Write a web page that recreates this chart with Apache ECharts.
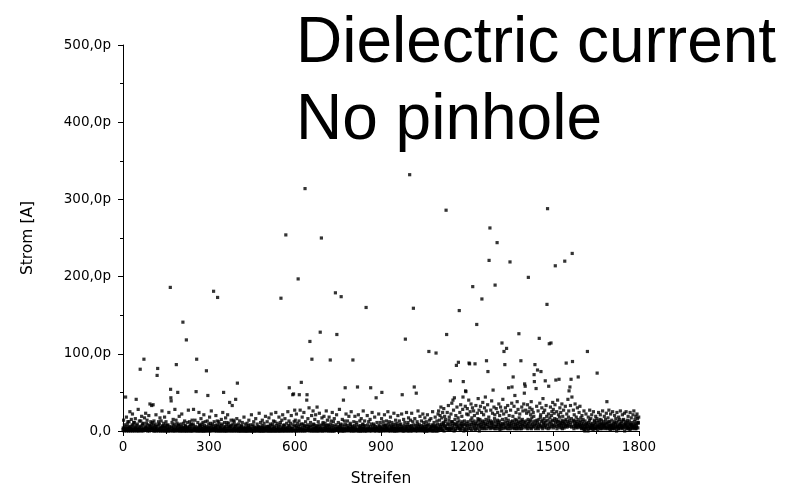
<!DOCTYPE html>
<html>
<head>
<meta charset="utf-8">
<script src="https://cdn.jsdelivr.net/npm/echarts@6/dist/echarts.min.js"></script>
<style>
html,body{margin:0;padding:0;background:#fff;}
#chart{width:794px;height:488px;}
</style>
</head>
<body>
<div id="chart"></div>
<script>
// Current per strip (pA), index = strip number 0..1799, one row per 100 strips
const current = [
/*0*/    2,4,14,3,0,8,1,5,2,44, 1,3,18,0,6,9,1,12,4,2, 0,12,3,5,25,2,6,0,3,15, 2,1,8,22,0,4,7,11,1,3, 11,0,2,16,3,5,41,7,2,0, 9,3,1,28,2,0,5,13,1,6, 80,2,13,0,4,19,1,7,9,2, 0,10,3,93,1,17,2,4,6,23, 3,1,10,5,14,0,3,8,1,2, 20,4,0,7,35,2,6,12,3,9,
/*100*/  33,2,5,11,3,34,0,7,13,1, 4,0,9,2,6,21,3,0,6,72, 2,81,1,8,12,0,4,9,1,17, 3,0,5,13,1,4,26,0,6,7, 1,3,10,0,5,18,1,5,0,8, 12,1,4,0,7,3,1,8,2,0, 24,2,6,4,0,186,54,43,39,5, 1,11,3,0,7,15,1,4,0,9, 2,28,1,6,0,14,86,2,5,10, 3,50,0,7,8,1,19,3,0,5,
/*200*/  1,3,9,0,6,22,1,4,0,141, 2,10,5,3,0,13,2,7,6,0, 3,118,2,0,11,5,4,2,27,0, 1,6,12,3,0,8,1,5,9,0, 3,14,1,0,7,9,28,1,3,4, 2,14,0,6,1,51,2,93,0,4, 1,11,3,0,5,24,1,8,0,7, 2,5,16,0,3,9,6,1,0,11, 3,0,21,2,7,5,0,12,2,4, 0,78,3,6,13,2,46,0,4,9,
/*300*/  2,5,18,0,3,10,1,7,26,0, 4,1,9,2,6,3,181,1,12,2, 0,3,7,5,20,2,0,4,8,13, 173,2,0,6,12,1,9,0,4,5, 1,3,0,15,7,1,9,0,24,3, 2,50,5,0,11,3,6,0,17,1, 4,0,8,11,1,21,3,0,6,10, 1,5,37,0,3,6,1,14,7,0, 3,33,1,9,0,14,2,5,12,3, 0,6,8,41,1,3,0,16,7,62,
/*400*/  2,4,0,9,3,1,0,13,5,1, 0,3,6,7,2,0,11,1,3,0, 2,5,18,0,3,1,9,4,0,1, 3,0,6,10,1,0,2,4,7,14, 0,2,5,3,0,8,2,1,21,0, 3,1,0,6,8,1,12,0,4,1, 0,4,2,16,5,0,3,1,9,2, 1,0,6,5,3,23,0,4,2,0, 11,2,5,0,3,7,14,2,0,4, 2,0,10,6,3,0,2,19,1,5,
/*500*/  1,3,0,12,6,1,0,6,2,17, 0,5,3,2,9,0,7,22,2,0, 3,1,9,0,6,13,1,3,0,5, 12,1,0,24,2,7,3,0,10,2, 1,0,4,6,18,1,0,8,2,11, 0,172,2,5,14,3,0,21,1,7, 3,0,8,2,6,16,0,3,254,1, 2,10,0,5,3,25,2,0,7,13, 56,2,6,0,10,3,1,20,4,0, 1,3,47,8,0,48,1,12,6,27,
/*600*/  2,14,0,7,1,22,5,0,10,3, 1,197,6,0,13,47,3,8,27,2, 0,4,63,9,1,18,0,5,9,2, 1,24,0,7,5,314,1,12,0,6, 3,40,47,1,8,16,2,3,6,30, 0,5,116,1,11,7,2,0,20,93, 2,6,0,26,3,9,8,2,0,15, 3,5,21,0,7,4,1,31,2,0, 6,12,3,0,8,23,1,5,128,3, 2,0,250,7,17,3,0,9,11,1,
/*700*/  3,19,0,6,1,10,3,7,2,26, 1,5,0,14,3,8,7,2,0,18, 2,6,3,92,0,9,13,1,5,0, 24,2,7,0,12,3,1,16,0,6, 1,179,3,8,2,21,125,1,5,3, 2,11,0,6,3,28,2,0,7,9, 3,174,5,2,0,15,3,8,0,40, 2,0,13,6,3,56,2,9,22,1, 0,3,7,13,1,5,4,2,19,1, 3,0,8,10,1,6,25,0,3,4,
/*800*/  2,6,92,0,3,12,1,7,0,19, 3,1,5,2,11,1,8,0,57,2, 1,21,0,6,2,4,13,0,7,3, 0,16,1,5,3,0,8,9,26,2, 3,6,0,13,2,7,3,0,160,2, 1,0,20,3,8,1,5,12,2,1, 3,0,15,6,56,2,0,9,1,24, 2,5,1,3,9,2,7,0,18,3, 1,6,0,43,3,1,11,5,2,1, 3,0,22,7,1,0,6,11,2,4,
/*900*/  0,3,16,50,5,2,0,8,12,2, 1,6,21,3,2,7,0,8,4,13, 3,1,5,2,25,1,9,0,6,12, 1,2,0,18,3,7,2,5,11,1, 3,0,8,6,1,23,0,4,3,9, 0,14,2,6,3,0,10,2,7,20, 2,3,0,5,13,2,8,3,1,9, 3,6,22,0,47,2,5,3,0,15, 1,7,0,11,3,119,1,6,2,24, 3,5,0,8,11,1,17,0,6,2,
/*1000*/ 332,2,6,14,0,3,7,23,1,0, 3,12,5,159,1,8,57,2,16,3, 1,0,7,49,3,5,12,0,9,26, 1,3,6,2,8,1,19,5,0,3, 1,13,2,7,3,1,22,6,0,11, 3,5,0,17,2,8,3,0,12,6, 0,3,21,7,2,0,9,103,1,14, 2,6,3,1,16,5,0,5,8,1, 25,0,7,1,3,11,6,0,4,18, 3,7,101,0,5,13,3,9,0,22,
/*1100*/ 2,26,5,3,14,8,20,2,6,31, 3,9,17,2,6,24,1,11,9,29, 0,7,19,4,12,15,6,286,3,125, 3,24,8,2,10,33,3,14,18,2, 6,3,65,9,22,2,12,36,3,12, 7,40,4,27,10,0,43,8,15,1, 3,20,9,85,6,31,11,3,7,17, 89,5,13,156,3,24,8,2,34,10, 3,7,19,12,6,28,44,64,9,0, 3,13,8,2,32,52,51,6,10,22,
/*1200*/ 2,29,7,12,21,3,40,88,9,87, 6,25,3,14,35,8,1,17,11,30, 187,5,9,26,13,3,20,7,87,1, 10,33,4,8,138,12,23,3,16,42, 7,14,27,0,9,15,5,32,11,3, 6,24,171,8,13,37,3,10,21,5, 12,30,3,7,44,9,15,26,91,3, 8,11,34,77,6,14,18,221,5,10, 263,3,13,27,7,11,39,4,9,23, 5,53,12,8,31,3,16,21,189,6,
/*1300*/ 3,12,29,6,9,244,14,24,3,8, 11,35,5,13,20,2,9,31,7,3, 6,26,114,10,15,41,3,8,22,103, 9,5,86,12,30,4,16,25,107,7, 3,11,33,8,14,56,3,20,6,10, 219,7,27,3,12,9,36,57,5,13, 19,70,8,4,32,11,3,46,15,6, 9,24,3,14,7,38,10,3,28,12, 5,126,17,8,22,3,11,6,91,13, 3,31,9,15,7,26,4,12,35,8,
/*1400*/ 49,61,11,58,6,27,13,4,23,9, 7,34,3,15,199,10,25,6,12,30, 4,14,21,8,38,3,17,28,9,5, 12,24,6,19,73,64,8,86,13,3, 10,55,7,32,14,4,79,11,26,6, 3,15,120,9,36,7,18,21,77,5, 12,30,6,14,3,42,10,24,8,16, 5,27,11,65,7,13,33,4,19,164, 8,288,14,3,22,58,10,113,6,17, 4,31,12,114,9,20,25,6,14,37,
/*1500*/ 8,28,4,13,23,7,16,34,214,11, 66,6,15,25,3,12,40,9,7,21, 13,67,5,18,30,8,11,24,4,10, 7,35,14,3,19,12,6,27,10,4, 9,220,13,32,6,15,88,8,22,5, 12,7,41,10,18,26,52,14,6,57, 11,33,8,67,16,5,44,230,90,12, 6,27,14,3,21,9,13,35,7,5, 10,18,6,12,4,30,9,15,70,7, 5,24,11,8,32,6,13,17,4,9,
/*1600*/ 3,20,7,5,12,15,3,9,26,2, 6,0,13,8,4,22,5,10,3,9, 103,7,0,18,11,3,6,14,27,5, 3,9,16,4,7,21,10,3,6,7, 2,25,8,5,12,14,3,9,4,19, 3,11,6,16,75,7,2,13,5,24, 8,4,11,6,15,21,3,9,7,14, 3,10,5,26,8,4,12,8,6,19, 7,3,9,15,5,11,23,4,38,10, 3,6,17,8,12,27,5,3,12,7,
/*1700*/ 2,22,6,9,4,14,7,3,25,5, 3,8,10,5,12,20,3,6,9,16, 4,11,0,24,7,5,6,13,3,18, 3,9,15,6,8,26,4,10,5,12, 7,3,21,6,14,4,15,9,5,23, 0,8,12,9,5,25,7,3,11,14, 4,6,19,3,10,5,13,8,2,24, 3,9,6,17,7,11,8,3,5,21, 6,4,26,8,12,5,15,3,9,19, 3,7,5,22,11,16,4,10,11,18
];
const xTicks = [0, 300, 600, 900, 1200, 1500, 1800];
const yTicks = [0, 100, 200, 300, 400, 500];
const titleLines = ['Dielectric current', 'No pinhole'];

const chart = echarts.init(document.getElementById('chart'), null, {renderer: 'canvas'});
const font = '"Liberation Sans", Arial, sans-serif';
const tickFont = '"DejaVu Sans", sans-serif';
chart.setOption({
  animation: false,
  backgroundColor: '#fff',
  title: {
    text: titleLines.join('\n'),
    left: 296, top: 6, padding: 0,
    textStyle: {fontFamily: font, fontSize: 64, fontWeight: 'normal', color: '#000', lineHeight: 77}
  },
  grid: {left: 123, right: 155, top: 45, bottom: 57, containLabel: false, outerBoundsMode: 'none'},
  xAxis: {
    type: 'value', min: xTicks[0], max: xTicks[xTicks.length - 1], interval: 300,
    name: 'Streifen', nameLocation: 'middle', nameGap: 40,
    nameTextStyle: {fontFamily: tickFont, fontSize: 15.5, color: '#000'},
    axisLine: {show: true, onZero: false, lineStyle: {color: '#000', width: 1}},
    axisTick: {show: true, length: 5, lineStyle: {color: '#000'}},
    minorTick: {show: true, splitNumber: 2, length: 3, lineStyle: {color: '#000'}},
    axisLabel: {fontFamily: tickFont, fontSize: 13.5, color: '#000', margin: 9, formatter: v => String(v)},
    splitLine: {show: false}
  },
  yAxis: {
    type: 'value', min: yTicks[0], max: yTicks[yTicks.length - 1], interval: 100,
    name: 'Strom [A]', nameLocation: 'middle', nameGap: 87,
    nameTextStyle: {fontFamily: tickFont, fontSize: 15.5, color: '#000'},
    axisLine: {show: true, lineStyle: {color: '#000', width: 1}},
    axisTick: {show: true, length: 5, lineStyle: {color: '#000'}},
    minorTick: {show: true, splitNumber: 2, length: 3, lineStyle: {color: '#000'}},
    axisLabel: {
      fontFamily: tickFont, fontSize: 13.5, color: '#000', margin: 12,
      formatter: v => v === 0 ? '0,0' : v.toFixed(1).replace('.', ',') + 'p'
    },
    splitLine: {show: false}
  },
  series: [{
    type: 'scatter',
    symbol: 'rect',
    symbolSize: 3.2,
    itemStyle: {color: '#000'},
    silent: true,
    data: current.map((v, i) => [i, v])
  }]
});
</script>
</body>
</html>
